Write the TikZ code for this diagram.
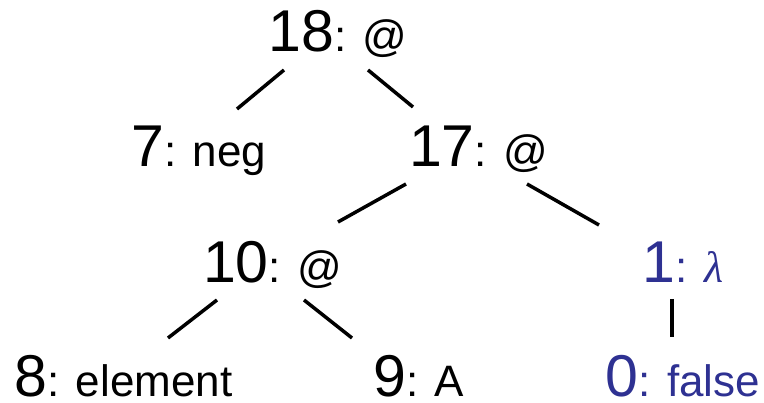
\documentclass[tikz,border=0pt]{standalone}
\usepackage{fontspec}
\setmainfont{Liberation Sans}
\newfontfamily\lamfont{Liberation Serif}
\usetikzlibrary{calc}
\definecolor{lblue}{RGB}{46,49,146}
\newcommand\biglab[1]{{\fontsize{59}{59}\selectfont #1}}
\newcommand\smalllab[1]{{\fontsize{44}{44}\selectfont #1}}
\newcommand\treelab[2]{\biglab{#1}\smalllab{: #2}}
\begin{document}
\begin{tikzpicture}[x=1pt,y=-1pt,
  tn/.style={anchor=base,inner sep=0pt,outer sep=0pt,text=black},
  bn/.style={tn,text=lblue},
  edge/.style={line width=3.5pt,black}]
\useasboundingbox (0,0) rectangle (764,403);
\node[tn] (n18) at (338,52) {\treelab{18}{@}};
\node[tn] (n7) at (199,167) {\treelab{7}{neg}};
\node[tn] (n17) at (478.5,167) {\treelab{17}{@}};
\node[tn] (n10) at (272.5,283) {\treelab{10}{@}};
\node[bn] (n1) at (683,283) {\treelab{1}{{\lamfont\itshape λ}}};
\node[tn] (n8) at (123.5,397) {\treelab{8}{element}};
\node[tn] (n9) at (419,397) {\treelab{9}{A}};
\node[bn] (n0) at (683,397) {\treelab{0}{false}};
\draw[edge] ($(n18.base)+(-54,18)$) -- ($(n7.base)+(38,-58)$);
\draw[edge] ($(n18.base)+(30,18)$) -- ($(n17.base)+(-65.5,-60)$);
\draw[edge] ($(n17.base)+(-72.5,17)$) -- ($(n10.base)+(65.5,-61)$);
\draw[edge] ($(n17.base)+(48.5,17)$) -- ($(n1.base)+(-84,-58)$);
\draw[edge] ($(n10.base)+(-55.5,17)$) -- ($(n8.base)+(44.5,-59)$);
\draw[edge] ($(n10.base)+(31.5,17)$) -- ($(n9.base)+(-67,-59)$);
\draw[edge] ($(n1.base)+(-11,16)$) -- ($(n0.base)+(-11,-60)$);
\end{tikzpicture}
\end{document}
